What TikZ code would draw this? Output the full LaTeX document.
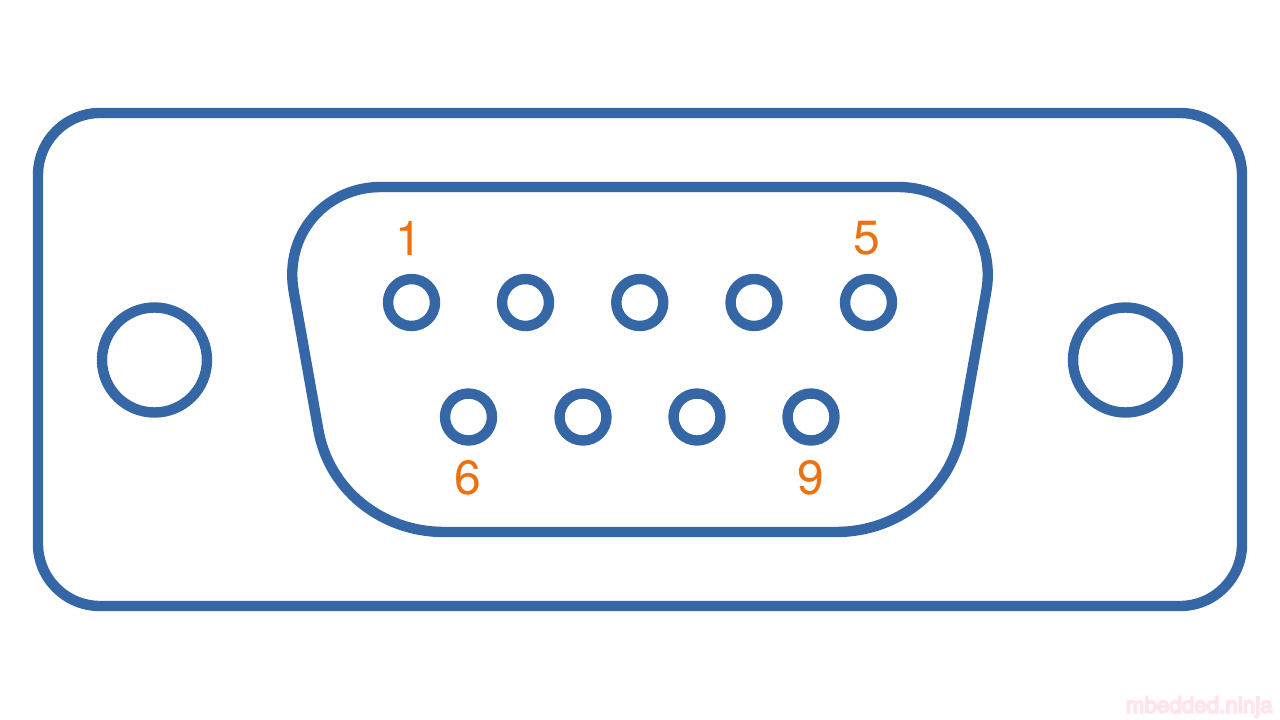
\documentclass[tikz,border=0pt]{standalone}
\usepackage{fontspec}
\setmainfont{TeX Gyre Heros}
\definecolor{shell}{HTML}{3566A6}
\definecolor{pinlabel}{HTML}{EC7211}
\tikzset{
  outline/.style={draw=shell,line width=7.8pt},
  pinhole/.style={circle,draw=shell,line width=7.8pt,minimum size=35.25pt,inner sep=0pt},
  mounthole/.style={circle,draw=shell,line width=7.8pt,minimum size=78.75pt,inner sep=0pt},
  pinnum/.style={text=pinlabel,font=\fontsize{36}{36}\selectfont,inner sep=0pt},
  wmark/.style={font=\fontsize{16.8}{17}\selectfont,inner sep=0pt}
}
\begin{document}
\begin{tikzpicture}[x=0.75pt,y=-0.75pt]
\useasboundingbox (0,0) rectangle (1280,720);
\fill[white] (0,0) rectangle (1280,720);
\draw[outline,rounded corners=46.5pt] (38,113) rectangle (1242,606);
\draw[outline,line join=round] (381,187) -- (898,187)
  .. controls (955,187) and (997,235) .. (986,293)
  -- (962,428)
  .. controls (952,490) and (898,532) .. (836,532)
  -- (444,532)
  .. controls (382,532) and (328,490) .. (318,428)
  -- (294,293)
  .. controls (283,235) and (325,187) .. (381,187) -- cycle;
\node[mounthole] (mountL) at (154.5,360) {};
\node[mounthole] (mountR) at (1125.5,360) {};
\node[pinhole] (p1) at (411.5,302.5) {};
\node[pinhole] (p2) at (525.5,302.5) {};
\node[pinhole] (p3) at (639.75,302.5) {};
\node[pinhole] (p4) at (754,302.5) {};
\node[pinhole] (p5) at (868.5,302.5) {};
\node[pinhole] (p6) at (468.5,417) {};
\node[pinhole] (p7) at (583,417) {};
\node[pinhole] (p8) at (697,417) {};
\node[pinhole] (p9) at (811,417) {};
\node[pinnum] (l1) at (408.5,238) {1};
\node[pinnum] (l5) at (866.5,238) {5};
\node[pinnum] (l6) at (467.5,478) {6};
\node[pinnum] (l9) at (810.5,478) {9};
\node[wmark,anchor=east] (wm) at (1273,707) {\special{pdf:code q 2 Tr 1.2 w 1 .9 .92 RG 1 .97 .97 rg}mbedded.ninja\special{pdf:code Q}};
\end{tikzpicture}
\end{document}
